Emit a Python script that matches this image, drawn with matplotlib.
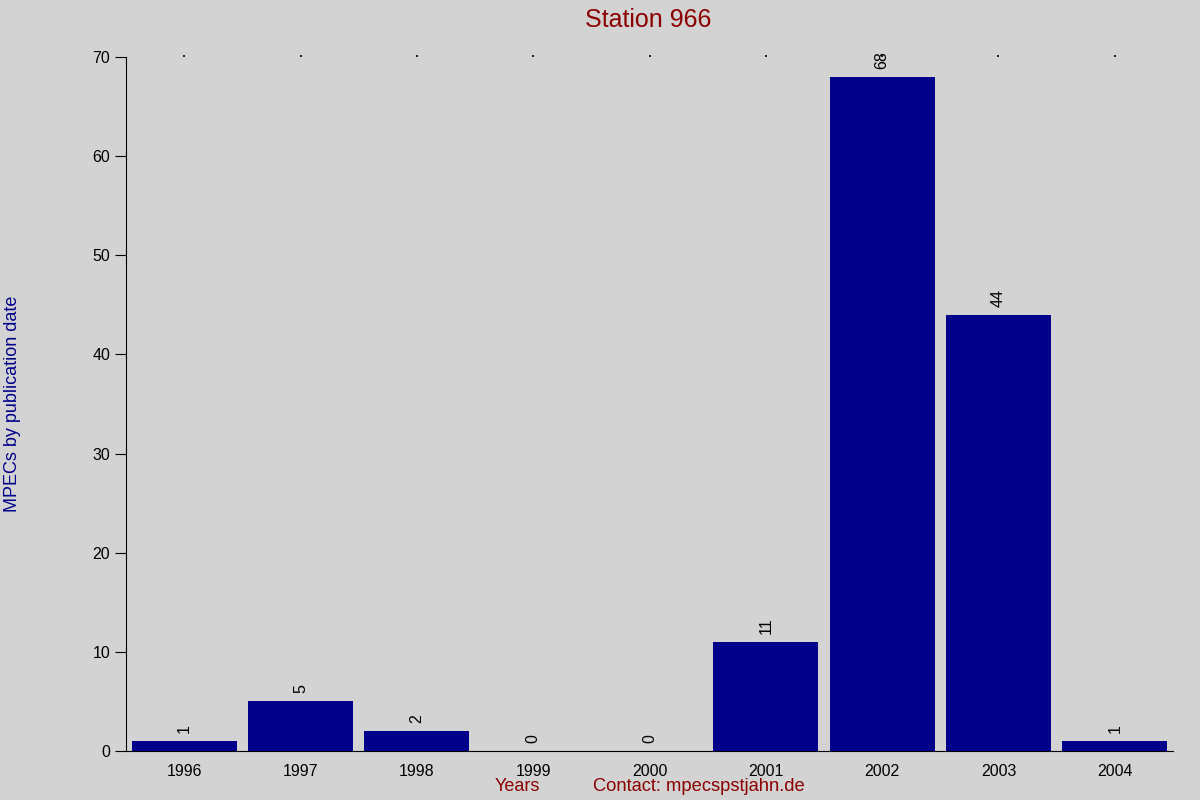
import matplotlib
matplotlib.use("Agg")
import matplotlib.pyplot as plt

plt.rcParams['font.family'] = ['Liberation Sans', 'DejaVu Sans']

# Daten
jahre = ['1996', '1997', '1998', '1999', '2000', '2001', '2002', '2003', '2004']
mpecs = [1, 5, 2, 0, 0, 11, 68, 44, 1]

bg = '#d3d3d3'
fig = plt.figure(figsize=(12, 8), dpi=100, facecolor=bg)
ax = fig.add_axes([0.105, 0.06125, 0.8725, 0.8675], facecolor=bg)

x = range(len(jahre))
ax.bar(x, mpecs, width=0.9, color='#00008b')

# Werte über den Balken
for xi, v in zip(x, mpecs):
    ax.text(xi, v + 0.8, str(v), rotation=90, ha='center', va='bottom', fontsize=11.5)

ax.set_xlim(-0.5, len(jahre) - 0.5)
ax.set_ylim(0, 70)
ax.set_xticks(list(x))
ax.set_xticklabels(jahre, fontsize=11.5)
ax.set_yticks(range(0, 71, 10))
ax.tick_params(axis='y', labelsize=11.5, length=8, direction='out')
ax.tick_params(axis='x', which='both', top=True, bottom=False, length=1.2, width=1.2, pad=8)

for s in ['top', 'right']:
    ax.spines[s].set_visible(False)

fig.text(0.54, 0.975, 'Station 966', color='#8b0000', fontsize=18, ha='center', va='center')
fig.text(0.0105, 0.495, 'MPECs by publication date', color='#00008b', fontsize=13,
         rotation=90, ha='center', va='center')
fig.text(0.431, 0.017, 'Years', color='#8b0000', fontsize=13, ha='center', va='center')
fig.text(0.582, 0.017, 'Contact: mpecspstjahn.de', color='#8b0000', fontsize=13.2,
         ha='center', va='center')

fig.savefig('out.png', dpi=100, facecolor=bg)
